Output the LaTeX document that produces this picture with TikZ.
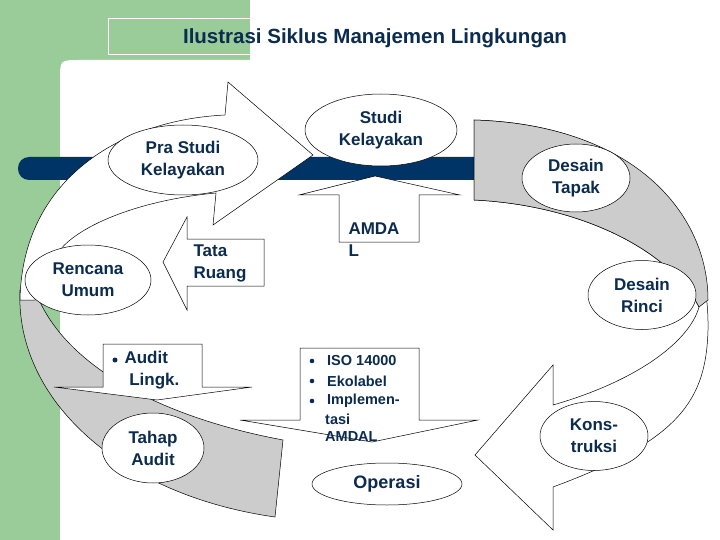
\documentclass[tikz,border=0pt]{standalone}
\usepackage{fontspec}
\setmainfont{Liberation Sans}
\definecolor{navy}{HTML}{0B2B4F}
\definecolor{bar}{HTML}{003366}
\definecolor{green}{HTML}{99CC99}
\definecolor{band}{HTML}{CCCCCC}
\usetikzlibrary{shapes.geometric}
\begin{document}
\begin{tikzpicture}[x=1pt,y=-1pt,
  lbl/.style={text=navy,font=\fontsize{17}{22}\selectfont\bfseries,align=center},
  ell/.style={ellipse,draw=black,fill=white,line width=0.5pt,inner sep=0pt},
  shp/.style={draw=black,line width=0.5pt},
  sm/.style={text=navy,font=\fontsize{14.5}{20}\selectfont\bfseries,align=left,anchor=west,inner sep=0pt}]
\useasboundingbox (0,0) rectangle (720,540);
\fill[green] (0,0) rectangle (720,540);
\fill[white] (250,0) rectangle (720,60);
\fill[white] (60,540) -- (60,80) .. controls (60,60) .. (80,60) -- (720,60) -- (720,540) -- cycle;
\draw[white,line width=0.8pt] (108,18) rectangle (250,54);
\node[text=navy,font=\fontsize{20.5}{22}\selectfont\bfseries] (title) at (375,38) {Ilustrasi Siklus Manajemen Lingkungan};
% blue bar
\fill[bar,rounded corners=11pt] (18,157) rectangle (500,180);
% left grey band
\fill[band,shp] (20,290) .. controls (15,400) and (120,495) .. (275,517) -- (283,440) .. controls (150,415) and (60,360) .. (35,290) -- cycle;
% left white arrow
\fill[white,shp] (35,300) -- (20,300) .. controls (22,180) and (120,120) .. (225,115) -- (228,82) -- (313,155) -- (213,225) -- (216,193) .. controls (140,200) and (80,225) .. (60,250) -- cycle;
% right arrow
\filldraw[white,shp] (474,120) .. controls (640,125) and (710,220) .. (708,330) .. controls (706,400) and (680,440) .. (553,487) -- (553,530) -- (475,455) -- (553,365) -- (553,405) .. controls (640,380) and (690,340) .. (699,307) .. controls (670,250) and (580,205) .. (474,200) -- cycle;
\filldraw[band,shp] (474,120) .. controls (636,125) and (708,215) .. (708,300) -- (699,307) .. controls (670,250) and (580,205) .. (474,200) -- cycle;
% callouts drawn beneath ellipses
\filldraw[white,shp] (339,242) -- (339,195) -- (299,195) -- (375,176) -- (460,195) -- (419,195) -- (419,242) -- cycle;
\node[lbl,align=left,anchor=west] (amdal) at (345,240) {AMDA\\L};
\filldraw[white,shp] (300,420) -- (300,348) -- (419,348) -- (419,420) -- (478,420) -- (372,442) -- (240,420) -- cycle;
\foreach \yy in {361,381,401} \fill[navy] (312,\yy) circle (2.3pt);
\node[sm] (iso) at (327,361) {ISO 14000};
\node[sm] (eko) at (327,381) {Ekolabel};
\node[sm] (imp) at (327,401) {Implemen-};
\node[sm] (tasi) at (325,419) {tasi};
\node[sm] (amd) at (325,437) {AMDAL};
% ellipses
\node[ell,minimum width=150pt,minimum height=70pt] (pra) at (183,160) {};
\node[lbl] at (pra) {Pra Studi\\Kelayakan};
\node[ell,minimum width=152pt,minimum height=72pt] (studi) at (381,130) {};
\node[lbl] at (studi) {Studi\\Kelayakan};
\node[ell,minimum width=126pt,minimum height=70pt] (renc) at (88,280) {};
\node[lbl] at (renc) {Rencana\\Umum};
\node[ell,minimum width=102pt,minimum height=70pt] (tahap) at (153,448) {};
\node[lbl] at (tahap) {Tahap\\Audit};
\node[ell,minimum width=150pt,minimum height=42pt] (oper) at (387,484) {};
\node[lbl,font=\fontsize{18}{22}\selectfont\bfseries] at (oper) {Operasi};
\node[ell,minimum width=108pt,minimum height=68pt] (tapak) at (576,178) {};
\node[lbl] at (tapak) {Desain\\Tapak};
\node[ell,minimum width=108pt,minimum height=69pt] (rinci) at (642,295) {};
\node[lbl] at (rinci) {Desain\\Rinci};
\node[ell,minimum width=108pt,minimum height=69pt] (kons) at (594,436) {};
\node[lbl] at (kons) {Kons-\\truksi};
% other callouts
\filldraw[white,shp] (187,239) -- (187,217) -- (163,262) -- (187,310) -- (187,286) -- (264,286) -- (264,239) -- cycle;
\node[lbl,align=left,anchor=west] (tata) at (190,263) {Tata\\Ruang};
\filldraw[white,shp] (103,387) -- (103,344) -- (202,344) -- (202,387) -- (252,387) -- (157,400) -- (54,387) -- cycle;
\fill[navy] (115,360) circle (2.5pt);
\node[lbl,align=left,anchor=west] (audit) at (121,370) {Audit\\\ Lingk.};
\end{tikzpicture}
\end{document}
